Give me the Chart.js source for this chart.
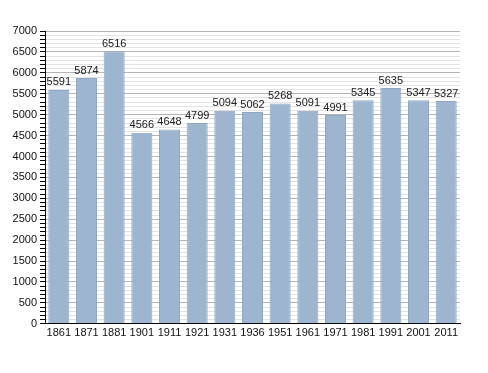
<!DOCTYPE html>
<html>
<head>
<meta charset="utf-8">
<script src="https://cdn.jsdelivr.net/npm/chart.js@4/dist/chart.umd.min.js"></script>
<style>
  html, body { margin: 0; padding: 0; background: #fff; }
  #wrap { width: 488px; height: 373px; }
</style>
</head>
<body>
<div id="wrap"><canvas id="popChart" width="488" height="373"></canvas></div>
<script>
// Census years and population
const years = ["1861", "1871", "1881", "1901", "1911", "1921", "1931", "1936",
  "1951", "1961", "1971", "1981", "1991", "2001", "2011"];
const population = [5591, 5874, 6516, 4566, 4648, 4799, 5094, 5062,
  5268, 5091, 4991, 5345, 5635, 5347, 5327];
const yMax = 7000;
const yMinorStep = 100;
const yMajorStep = 500;

// Value labels above each bar
const barLabels = {
  id: "barLabels",
  afterDatasetsDraw(chart) {
    const ctx = chart.ctx;
    const meta = chart.getDatasetMeta(0);
    ctx.save();
    ctx.font = "11px 'Liberation Sans', Arial, sans-serif";
    ctx.fillStyle = "#222";
    ctx.textAlign = "center";
    ctx.textBaseline = "bottom";
    meta.data.forEach((bar, i) => {
      ctx.fillText(String(population[i]), bar.x, bar.y - 2);
    });
    ctx.restore();
  },
};

const isMajor = (v) => v % yMajorStep === 0;

const ctx = document.getElementById("popChart").getContext("2d");
new Chart(ctx, {
  type: "bar",
  data: {
    labels: years,
    datasets: [
      {
        data: population,
        backgroundColor: "#9db5cf",
        borderColor: "#8ea7c2",
        borderWidth: 1,
        barPercentage: 0.76,
        categoryPercentage: 1,
      },
    ],
  },
  options: {
    responsive: false,
    animation: false,
    layout: { padding: { top: 31, right: 28, bottom: 30, left: 0 } },
    plugins: { legend: { display: false }, tooltip: { enabled: false } },
    scales: {
      x: {
        grid: { display: false, drawTicks: false },
        border: { display: true, color: "#000", width: 1 },
        ticks: {
          color: "#111",
          font: { family: "'Liberation Sans', Arial, sans-serif", size: 11 },
          padding: 3,
          maxRotation: 0,
          autoSkip: false,
        },
      },
      y: {
        min: 0,
        max: yMax,
        border: { display: true, color: "#000", width: 1 },
        grid: {
          color: (c) => (isMajor(c.tick.value) ? "#b5b5b5" : "#e3e3e3"),
          tickColor: "#000",
          tickLength: 5,
        },
        ticks: {
          stepSize: yMinorStep,
          autoSkip: false,
          padding: 3,
          color: "#111",
          font: { family: "'Liberation Sans', Arial, sans-serif", size: 11 },
          callback: (v) => (isMajor(v) ? String(v) : ""),
        },
        afterFit: (scale) => { scale.width = 45; },
      },
    },
  },
  plugins: [barLabels],
});
</script>
</body>
</html>
